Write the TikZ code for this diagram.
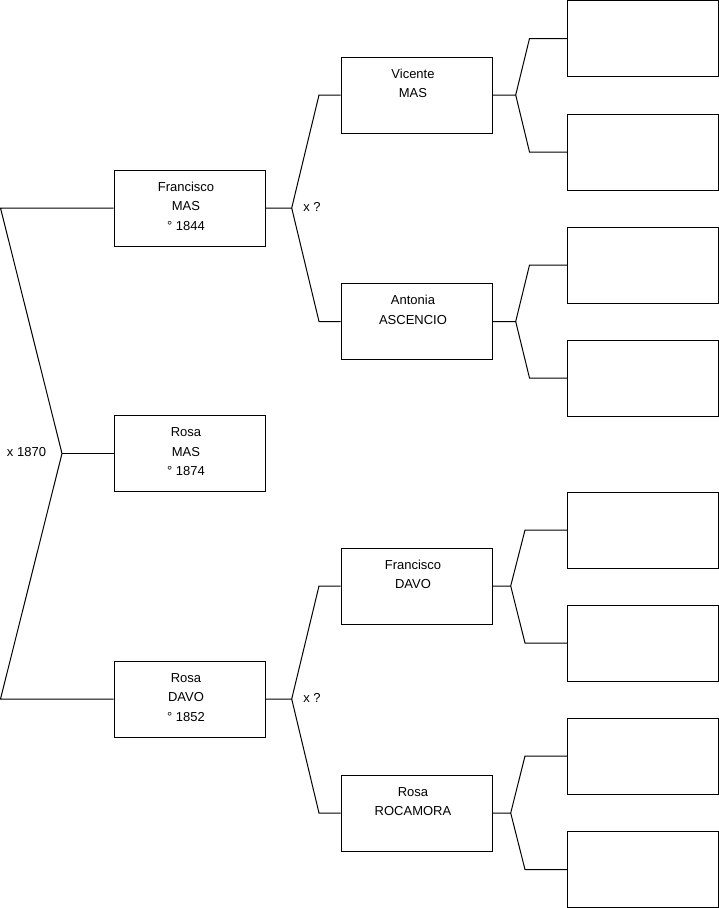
\documentclass[tikz,border=0pt]{standalone}
\usepackage{fontspec}
\setmainfont{Liberation Sans}
\begin{document}
\begin{tikzpicture}[x=1pt,y=-1pt, line width=1pt,
  person/.style={draw, rectangle, minimum width=151pt, minimum height=76pt, inner sep=0pt},
  txt/.style={anchor=north, align=center, inner sep=0pt, font=\fontsize{13}{19.5}\selectfont},
  lbl/.style={inner sep=0pt, font=\fontsize{13}{15}\selectfont}]
\useasboundingbox (0,0) rectangle (719,908);
% generation 1 and 2
\node[person] (fm) at (189.5,208) {};
\node[person] (rm) at (189.5,453.5) {};
\node[person] (rd) at (189.5,699) {};
\node[person] (vm) at (416.5,95) {};
\node[person] (aa) at (416.5,321.5) {};
\node[person] (fd) at (416.5,586) {};
\node[person] (rr) at (416.5,813) {};
% empty boxes
\node[person] (e1) at (643,38.5) {};
\node[person] (e2) at (643,152) {};
\node[person] (e3) at (643,265) {};
\node[person] (e4) at (643,378) {};
\node[person] (e5) at (643,530) {};
\node[person] (e6) at (643,643) {};
\node[person] (e7) at (643,756) {};
\node[person] (e8) at (643,869.5) {};
% texts
\tikzset{tpos/.style={xshift=-3.5pt,yshift=-7.4pt}}
\node[txt] (fm-t) at ([tpos]fm.north) {\rule{0pt}{14pt}Francisco\\MAS\\° 1844};
\node[txt] (rm-t) at ([tpos]rm.north) {\rule{0pt}{14pt}Rosa\\MAS\\° 1874};
\node[txt] (rd-t) at ([tpos]rd.north) {\rule{0pt}{14pt}Rosa\\DAVO\\° 1852};
\node[txt] (vm-t) at ([tpos]vm.north) {\rule{0pt}{14pt}Vicente\\MAS};
\node[txt] (aa-t) at ([tpos]aa.north) {\rule{0pt}{14pt}Antonia\\ASCENCIO};
\node[txt] (fd-t) at ([tpos]fd.north) {\rule{0pt}{14pt}Francisco\\DAVO};
\node[txt] (rr-t) at ([tpos]rr.north) {\rule{0pt}{14pt}Rosa\\ROCAMORA};
% left bracket
\coordinate (lt) at (0.5,208);
\coordinate (apex) at (62,453.5);
\coordinate (lb) at (0.5,699);
\draw (fm.west) -- (lt) -- (apex) -- (lb) -- (rd.west);
\draw (apex) -- (rm.west);
\node[lbl] (m0) at (26.5,452) {x 1870};
% middle brackets
\coordinate (b1) at (291.7,208);
\coordinate (b1u) at (319,95);
\coordinate (b1d) at (319,321.5);
\draw (fm.east) -- (b1) -- (b1u) -- (vm.west);
\draw (b1) -- (b1d) -- (aa.west);
\node[lbl] (m1) at (312,207) {x ?};
\coordinate (b2) at (291.7,699);
\coordinate (b2u) at (319,586);
\coordinate (b2d) at (319,813);
\draw (rd.east) -- (b2) -- (b2u) -- (fd.west);
\draw (b2) -- (b2d) -- (rr.west);
\node[lbl] (m2) at (312,698) {x ?};
% right brackets
\coordinate (c1) at (515.7,95);
\coordinate (c1u) at (529.5,38.5);
\coordinate (c1d) at (529.5,152);
\draw (vm.east) -- (c1) -- (c1u) -- (e1.west);
\draw (c1) -- (c1d) -- (e2.west);
\coordinate (c2) at (515.7,321.5);
\coordinate (c2u) at (529.5,265);
\coordinate (c2d) at (529.5,378);
\draw (aa.east) -- (c2) -- (c2u) -- (e3.west);
\draw (c2) -- (c2d) -- (e4.west);
\coordinate (c3) at (510.7,586);
\coordinate (c3u) at (525,530);
\coordinate (c3d) at (525,643);
\draw (fd.east) -- (c3) -- (c3u) -- (e5.west);
\draw (c3) -- (c3d) -- (e6.west);
\coordinate (c4) at (510.7,813);
\coordinate (c4u) at (525,756);
\coordinate (c4d) at (525,869.5);
\draw (rr.east) -- (c4) -- (c4u) -- (e7.west);
\draw (c4) -- (c4d) -- (e8.west);
\end{tikzpicture}
\end{document}
